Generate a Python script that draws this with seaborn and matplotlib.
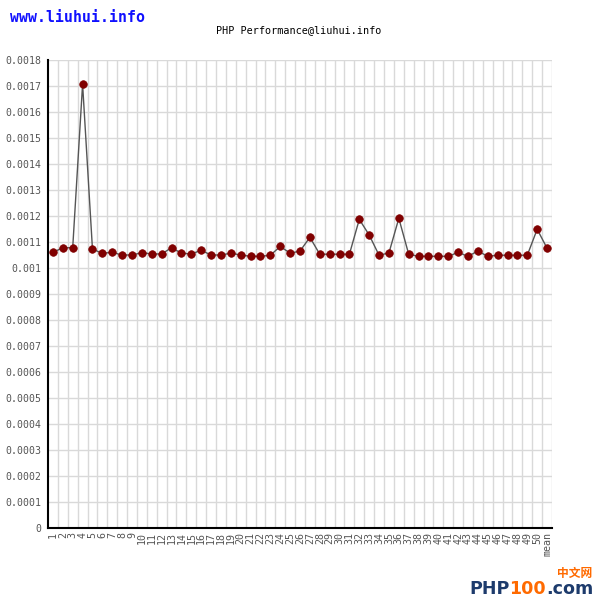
import matplotlib
matplotlib.use("Agg")
import matplotlib.pyplot as plt
import seaborn as sns
import numpy as np
import pandas as pd

# Run labels (1..50 plus the mean)
run_labels = [str(i) for i in range(1, 51)] + ["mean"]

# Execution time per run (seconds)
exec_times = [
    0.001060, 0.001078, 0.001078, 0.001707, 0.001072,
    0.001057, 0.001060, 0.001050, 0.001050, 0.001059,
    0.001054, 0.001054, 0.001078, 0.001057, 0.001054,
    0.001068, 0.001050, 0.001050, 0.001057, 0.001050,
    0.001045, 0.001045, 0.001049, 0.001083, 0.001057,
    0.001065, 0.001118, 0.001053, 0.001053, 0.001053,
    0.001053, 0.001187, 0.001127, 0.001049, 0.001058,
    0.001191, 0.001053, 0.001045, 0.001045, 0.001045,
    0.001045, 0.001060, 0.001045, 0.001065, 0.001045,
    0.001049, 0.001049, 0.001049, 0.001049, 0.001149,
    0.001076,
]

y_ticks = [i * 0.0001 for i in range(19)]
y_tick_labels = ["0"] + ["0.%04d" % i for i in range(1, 10)] + ["0.001"] + \
    ["0.%04d" % i for i in range(11, 19)]

df = pd.DataFrame({"run": run_labels, "time": exec_times})
df["pos"] = range(len(df))

MONO = "DejaVu Sans Mono"
GRID = "#d9d9d9"
TICK_COLOR = "#555555"

sns.set_style("white")
fig = plt.figure(figsize=(6, 6), dpi=100)
ax = fig.add_axes([0.08, 0.12, 0.84, 0.78])

# grid first so it sits under the data
ax.set_xlim(-0.5, len(df) - 0.5)
ax.set_ylim(0, 0.0018)
ax.set_xticks(df["pos"])
ax.set_xticklabels(run_labels, rotation=90, fontsize=7.2, family=MONO,
                   color=TICK_COLOR)
ax.set_xticks(np.arange(len(df)) + 0.5, minor=True)
ax.set_yticks(y_ticks)
ax.set_yticklabels(y_tick_labels, fontsize=7.1, family=MONO, color=TICK_COLOR)
ax.grid(False)
ax.grid(True, which="minor", axis="x", color=GRID, linewidth=1)
ax.grid(True, which="major", axis="y", color=GRID, linewidth=1)
ax.set_axisbelow(True)
ax.tick_params(axis="both", which="both", length=0)
ax.tick_params(axis="y", pad=5)
ax.tick_params(axis="x", pad=3)

sns.lineplot(data=df, x="pos", y="time", ax=ax, color="#555555",
             linewidth=1, sort=False)
sns.scatterplot(data=df, x="pos", y="time", ax=ax, color="#800000",
                edgecolor="#800000", s=30, linewidth=0.5, zorder=3)

ax.set_xlabel("")
ax.set_ylabel("")
for side in ["top", "right"]:
    ax.spines[side].set_visible(False)
for side in ["left", "bottom"]:
    ax.spines[side].set_color("black")
    ax.spines[side].set_linewidth(1.5)

# header texts
fig.text(10 / 600, 1 - 18 / 600, "www.liuhui.info", family=MONO,
         fontweight="bold", fontsize=10.7, color="#1010ff", va="center",
         ha="left")
fig.text(299 / 600, 1 - 30 / 600, "PHP Performance@liuhui.info", family=MONO,
         fontsize=7.3, color="black", va="center", ha="center")

# watermark bottom right
fig.text(557 / 600, 1 - 573 / 600, "中文网", family=["Noto Sans CJK SC"],
         fontweight="bold", fontsize=8.5, color="#ff6a00", va="center",
         ha="left")
t1 = fig.text(469 / 600, 1 - 589 / 600, "PHP", family="DejaVu Sans",
              fontweight="bold", fontsize=12.6, color="#1d3b6c", va="center",
              ha="left")
fig.canvas.draw()
r = fig.canvas.get_renderer()
bb = t1.get_window_extent(r)
t2 = fig.text(bb.x1 / 600, 1 - 589 / 600, "100", family="DejaVu Sans",
              fontweight="bold", fontsize=12.6, color="#ff6a00", va="center",
              ha="left")
bb2 = t2.get_window_extent(r)
fig.text(bb2.x1 / 600, 1 - 589 / 600, ".com", family="DejaVu Sans",
         fontweight="bold", fontsize=12.6, color="#1d3b6c", va="center",
         ha="left")

fig.savefig("out.png", dpi=100)
